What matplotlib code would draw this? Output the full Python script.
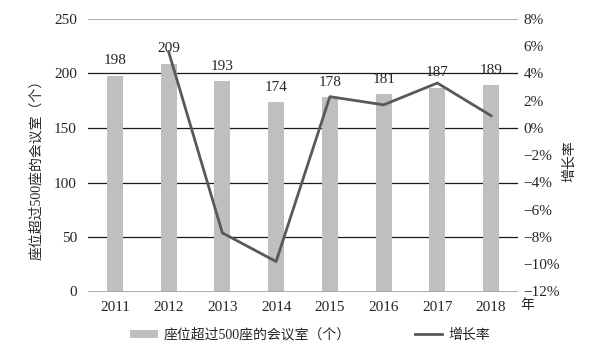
import matplotlib
matplotlib.use('Agg')
import matplotlib.pyplot as plt
import numpy as np

plt.rcParams['font.family'] = ['Liberation Serif', 'Noto Sans CJK SC', 'DejaVu Sans']
plt.rcParams['axes.unicode_minus'] = True

years = ['2011', '2012', '2013', '2014', '2015', '2016', '2017', '2018']
rooms = [198, 209, 193, 174, 178, 181, 187, 189]           # 座位超过500座的会议室（个）
growth_years = ['2012', '2013', '2014', '2015', '2016', '2017', '2018']
growth = [5.6, -7.7, -9.8, 2.3, 1.7, 3.3, 0.9]              # 增长率 %

bar_color = '#bfbfbf'
line_color = '#595959'
txt = '#262626'
fs = 11

fig = plt.figure(figsize=(5.96, 3.57), dpi=100)
ax = fig.add_axes([88 / 596, 1 - 291.5 / 357, 430 / 596, 272.5 / 357])
ax2 = ax.twinx()

x = np.arange(len(years))
ax.bar(x, rooms, width=0.3, color=bar_color, zorder=2, label='座位超过500座的会议室（个）')
for xi, v in zip(x, rooms):
    ax.annotate(str(v), (xi, v), xytext=(0, 6), textcoords='offset points',
                ha='center', va='bottom', fontsize=fs, color=txt)

ax.set_xlim(-0.5, len(years) - 0.5)
ax.set_ylim(0, 250)
ax.set_yticks([0, 50, 100, 150, 200, 250])
for yv in [50, 100, 150, 200]:
    ax.axhline(yv, color='#1a1a1a', lw=0.9, zorder=1)
ax.axhline(250, color='#a6a6a6', lw=1.3, zorder=1)
ax.axhline(0, color='#a6a6a6', lw=1.3, zorder=3)
ax.set_xticks(x)
ax.set_xticklabels(years)
ax.tick_params(length=0, labelsize=fs, colors=txt)
ax.tick_params(axis='x', pad=7)
ax.tick_params(axis='y', pad=8)
for s in ax.spines.values():
    s.set_visible(False)
ax.set_ylabel('座位超过500座的会议室（个）', fontsize=10, color=txt)
ax.yaxis.set_label_coords(-0.105, 0.46)

gx = [years.index(y) for y in growth_years]
ax2.plot(gx, growth, color=line_color, lw=2, zorder=4, label='增长率')
ax2.set_ylim(-12, 8)
ax2.set_yticks(np.arange(-12, 9, 2))
ax2.set_yticklabels([f'{v}%' if v >= 0 else f'\u2212{abs(v)}%' for v in range(-12, 9, 2)])
ax2.tick_params(length=0, labelsize=fs, colors=txt, pad=4)
for s in ax2.spines.values():
    s.set_visible(False)
ax2.set_ylabel('增长率', fontsize=10, color=txt, rotation=90)
ax2.yaxis.set_label_coords(1.103, 0.48)

fig.text(527 / 596, 1 - 306 / 357, '年', fontsize=10, color=txt, ha='center', va='center')

h1, l1 = ax.get_legend_handles_labels()
h2, l2 = ax2.get_legend_handles_labels()
fig.legend(h1 + h2, l1 + l2, loc='center', bbox_to_anchor=(310 / 596, 1 - 335 / 357), ncol=2,
           frameon=False, fontsize=10, handlelength=2.0, handleheight=0.45,
           columnspacing=4.6, handletextpad=0.4, labelcolor=txt)

fig.savefig('out.png', dpi=100)
